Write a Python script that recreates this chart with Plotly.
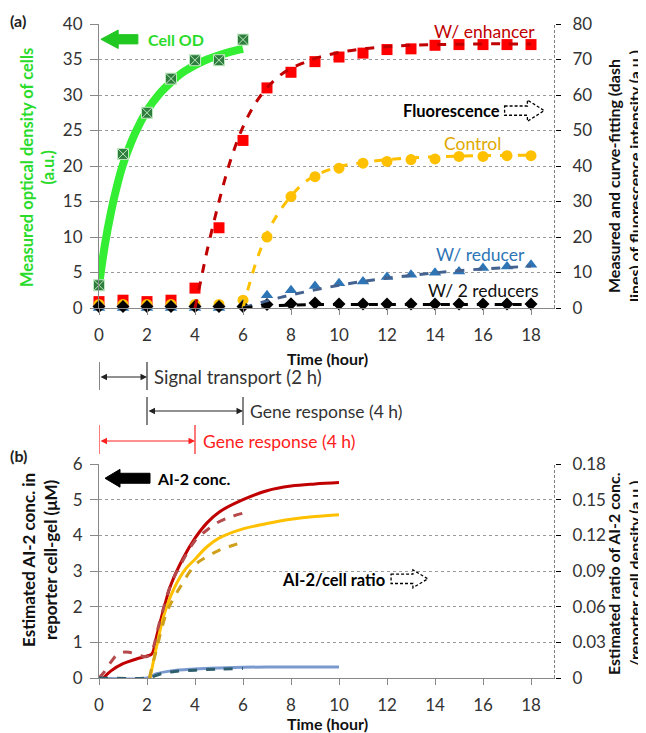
import plotly.graph_objects as go

# ---------------- Panel (a) data ----------------
t_meas = list(range(0, 19))
t_od = [0, 1, 2, 3, 4, 5, 6]
od_meas = [3.2, 21.7, 27.5, 32.3, 34.9, 34.9, 37.8]
t_od_fit = [0, 0.25, 0.5, 0.75, 1, 1.5, 2, 2.5, 3, 3.5, 4, 4.5, 5, 5.5, 6]
od_fit = [3.2, 9.0, 13.5, 17.2, 20.2, 24.6, 27.8, 30.1, 31.8, 33.2, 34.2, 35.0, 35.6, 36.1, 36.5]

fl_enh = [1.8, 2.2, 1.8, 2.2, 5.6, 22.6, 47.2, 62.0, 66.4, 69.4, 70.7, 71.8, 72.8, 73.0, 74.0, 74.2, 74.2, 74.2, 74.2]
fl_ctrl = [1.0, 1.0, 1.0, 1.0, 1.0, 1.0, 2.2, 20.0, 31.4, 37.0, 39.4, 40.8, 41.3, 41.8, 42.0, 42.7, 42.7, 42.9, 42.9]
fl_red = [0.0, 0.0, 0.0, 0.0, 0.0, 0.0, 1.0, 3.6, 5.0, 6.2, 7.0, 7.5, 8.7, 9.4, 9.9, 10.3, 11.3, 11.7, 12.2]
fl_2red = [0.4, 0.4, 0.4, 0.4, 0.4, 0.4, 0.4, 1.0, 1.2, 1.4, 1.1, 1.1, 1.1, 1.1, 1.1, 1.1, 1.1, 1.1, 1.1]

t_enh_fit = [4, 4.25, 4.5, 5, 5.5, 6, 6.5, 7, 7.5, 8, 8.5, 9, 10, 11, 12, 13, 14, 15, 16, 17, 18]
enh_fit = [0, 8, 16, 30, 42, 51, 57.5, 62, 65.3, 67.5, 69.0, 70.3, 72.0, 73.0, 73.6, 74.0, 74.2, 74.3, 74.4, 74.4, 74.4]
t_ctrl_fit = [6, 6.5, 7, 7.5, 8, 8.5, 9, 10, 11, 12, 13, 14, 15, 16, 17, 18]
ctrl_fit = [0, 12, 21, 27, 31.5, 35, 37.3, 39.8, 41.0, 41.8, 42.3, 42.6, 42.8, 42.9, 43.0, 43.0]
t_red_fit = [6, 7, 8, 9, 10, 11, 12, 13, 14, 15, 16, 17, 18]
red_fit = [0, 2.0, 3.7, 5.1, 6.4, 7.5, 8.4, 9.2, 9.9, 10.5, 11.0, 11.4, 11.8]
t_2red_fit = [6, 7, 8, 10, 12, 14, 16, 18]
red2_fit = [0, 0.6, 0.8, 1.0, 1.0, 1.0, 1.0, 1.0]

# ---------------- Panel (b) data ----------------
t_red_s = [0.18, 0.5, 1.0, 1.5, 2.0, 2.2, 2.4, 2.7, 3.0, 3.5, 4.0, 4.5, 5.0, 6.0, 7.0, 8.0, 9.0, 10.0]
ai2_red_s = [0, 0.2, 0.4, 0.52, 0.62, 0.67, 1.17, 1.95, 2.62, 3.35, 3.92, 4.35, 4.65, 5.0, 5.25, 5.38, 5.44, 5.48]
t_yel_s = [2.13, 2.4, 2.7, 3.1, 3.6, 4.0, 4.5, 5.0, 6.0, 7.0, 8.0, 9.0, 10.0]
ai2_yel_s = [0, 0.89, 1.75, 2.47, 3.05, 3.33, 3.68, 3.92, 4.18, 4.33, 4.45, 4.53, 4.58]
t_blu_s = [0, 2.0, 2.4, 3.0, 4.0, 5.0, 6.0, 7.0, 8.0, 9.0, 10.0]
ai2_blu_s = [0, 0, 0.12, 0.2, 0.25, 0.28, 0.3, 0.31, 0.31, 0.31, 0.31]

t_red_d = [0, 0.25, 0.5, 0.75, 1.0, 1.25, 1.5, 2.0, 2.2, 2.5, 3.0, 3.5, 4.0, 4.5, 5.0, 5.5, 6.0]
ratio_red_d = [0, 0.006, 0.0135, 0.0195, 0.0216, 0.0216, 0.0204, 0.018, 0.0225, 0.045, 0.079, 0.099, 0.1155, 0.1245, 0.1314, 0.1356, 0.1386]
t_yel_d = [2.1, 2.2, 2.4, 2.6, 2.8, 3.0, 3.4, 4.0, 4.5, 5.0, 5.5, 6.0]
ratio_yel_d = [0, 0.009, 0.024, 0.0405, 0.054, 0.063, 0.0771, 0.0951, 0.102, 0.1074, 0.111, 0.1146]
t_blu_d = [0, 2.0, 2.2, 2.5, 3.0, 4.0, 5.0, 6.0]
ratio_blu_d = [0, 0, 0.0009, 0.003, 0.0051, 0.0066, 0.0075, 0.0081]

x_ticks = [0, 2, 4, 6, 8, 10, 12, 14, 16, 18]

FONT = "Lato"
GREEN = "#2BDB2B"
OFF = 8  # page body margin offset
W, H = 646 - OFF, 733 - OFF
L = 99 - OFF
PW = 456


def py(p):
    return 1 - (p - OFF) / H


def px(p):
    return (p - 99) / PW


fig = go.Figure()

# ---- panel (a) traces ----
fig.add_trace(go.Scatter(x=t_od_fit, y=od_fit, mode="lines", line=dict(color="#33EE33", width=8, shape="spline"),
                         xaxis="x", yaxis="y", showlegend=False))
fig.add_trace(go.Scatter(x=t_od, y=od_meas, mode="markers",
                         marker=dict(symbol="square-x", size=11, color="#2E7D3E", line=dict(color="#BEE8BE", width=1)),
                         xaxis="x", yaxis="y", showlegend=False, cliponaxis=False))
fig.add_trace(go.Scatter(x=t_meas, y=fl_enh, mode="markers", marker=dict(symbol="square", size=11, color="#FF0000"),
                         xaxis="x", yaxis="y2", showlegend=False, cliponaxis=False))
fig.add_trace(go.Scatter(x=t_meas, y=fl_ctrl, mode="markers", marker=dict(symbol="circle", size=11, color="#FFC000"),
                         xaxis="x", yaxis="y2", showlegend=False, cliponaxis=False))
fig.add_trace(go.Scatter(x=t_meas, y=fl_red, mode="markers", marker=dict(symbol="triangle-up", size=11, color="#2E75B6"),
                         xaxis="x", yaxis="y2", showlegend=False, cliponaxis=False))
fig.add_trace(go.Scatter(x=t_meas, y=fl_2red, mode="markers", marker=dict(symbol="diamond", size=10, color="#000000"),
                         xaxis="x", yaxis="y2", showlegend=False, cliponaxis=False))
for tx, ty, col in [(t_enh_fit, enh_fit, "#C00000"), (t_ctrl_fit, ctrl_fit, "#FFC000"),
                    (t_red_fit, red_fit, "#44628F"), (t_2red_fit, red2_fit, "#000000")]:
    fig.add_trace(go.Scatter(x=tx, y=ty, mode="lines", line=dict(color=col, width=3, dash="dash", shape="spline"),
                             xaxis="x", yaxis="y2", showlegend=False))

# ---- panel (b) traces ----
for tx, ty, col in [(t_blu_s, ai2_blu_s, "#7A9ACF"), (t_red_s, ai2_red_s, "#C00000"), (t_yel_s, ai2_yel_s, "#FFC000")]:
    fig.add_trace(go.Scatter(x=tx, y=ty, mode="lines", line=dict(color=col, width=3, shape="spline"),
                             xaxis="x2", yaxis="y3", showlegend=False))
for tx, ty, col in [(t_red_d, ratio_red_d, "#B5494B"), (t_yel_d, ratio_yel_d, "#CFA01A"), (t_blu_d, ratio_blu_d, "#2D5E6E")]:
    fig.add_trace(go.Scatter(x=tx, y=ty, mode="lines", line=dict(color=col, width=3, dash="dash", shape="spline"),
                             xaxis="x2", yaxis="y4", showlegend=False))

tickfont = dict(family=FONT, size=17, color="#333333")
xcommon = dict(range=[0, 19], tickvals=x_ticks, ticks="outside", ticklen=6, tickcolor="#888888",
               showline=True, linecolor="#888888", linewidth=1, showgrid=False, zeroline=False,
               tickfont=tickfont, automargin=False, ticklabelstandoff=6)
ycommon = dict(ticks="outside", ticklen=8, tickcolor="#888888", showline=True, linecolor="#888888",
               showgrid=True, gridcolor="#9A9A9A", griddash="dot", gridwidth=1, zeroline=False,
               tickfont=tickfont, automargin=False, ticklabelstandoff=4)
yright = dict(side="right", ticks="outside", ticklen=5, tickcolor="#000000", showline=False, showgrid=False,
              zeroline=False, tickfont=tickfont, automargin=False, ticklabelstandoff=8)

dom_a = [py(308), py(24)]
dom_b = [py(678), py(464)]

fig.update_layout(
    width=W, height=H, margin=dict(l=L, r=W - L - PW, t=0, b=0, pad=0),
    plot_bgcolor="white", paper_bgcolor="white", font=dict(family=FONT),
    xaxis=dict(anchor="y", domain=[0, 1], **xcommon),
    xaxis2=dict(anchor="y3", domain=[0, 1], **xcommon),
    yaxis=dict(domain=dom_a, range=[0, 40], dtick=5, anchor="x", **ycommon),
    yaxis2=dict(overlaying="y", range=[0, 80], dtick=10, anchor="x", **yright),
    yaxis3=dict(domain=dom_b, range=[0, 6], dtick=1, anchor="x2", **ycommon),
    yaxis4=dict(overlaying="y3", range=[0, 0.18], dtick=0.03, anchor="x2", **yright),
)

shapes = []
# dashed right axis lines
shapes.append(dict(type="line", xref="x", yref="y domain", x0=19, x1=19, y0=0, y1=1,
                   line=dict(color="#000000", width=1, dash="3px,2px")))
shapes.append(dict(type="line", xref="x2", yref="y3 domain", x0=19, x1=19, y0=0, y1=1,
                   line=dict(color="#000000", width=1, dash="3px,2px")))
# block arrows
shapes.append(dict(type="path", xref="x", yref="y",
                   path="M 0.08,37.85 L 0.8,39.15 L 0.8,38.5 L 1.62,38.5 L 1.62,37.2 L 0.8,37.2 L 0.8,36.55 Z",
                   fillcolor="#22C822", line=dict(color="#22C822", width=1)))
shapes.append(dict(type="path", xref="x2", yref="y3",
                   path="M 0.25,5.6 L 0.875,5.85 L 0.875,5.74 L 2.125,5.74 L 2.125,5.46 L 0.875,5.46 L 0.875,5.35 Z",
                   fillcolor="#000000", line=dict(color="#000000", width=1)))
shapes.append(dict(type="path", xref="x", yref="y",
                   path="M 16.9,28.45 L 17.85,28.45 L 17.85,29.3 L 18.55,27.8 L 17.85,26.3 L 17.85,27.15 L 16.9,27.15 Z",
                   fillcolor="white", line=dict(color="#000000", width=1.3, dash="3px,2px")))
shapes.append(dict(type="path", xref="x2", yref="y3",
                   path="M 12.17,2.91 L 13.08,2.91 L 13.08,3.03 L 13.7,2.78 L 13.08,2.53 L 13.08,2.65 L 12.17,2.65 Z",
                   fillcolor="white", line=dict(color="#000000", width=1.3, dash="3px,2px")))

# interval bars below panel (a)
for xv, y0, y1, col in [(0, 362, 390, "#333333"), (2, 362, 390, "#333333"),
                        (2, 397, 425, "#333333"), (6, 397, 425, "#333333"),
                        (0, 425, 454, "#FF2020"), (4, 425, 454, "#FF2020")]:
    shapes.append(dict(type="line", xref="x", yref="paper", x0=xv, x1=xv, y0=py(y0), y1=py(y1),
                       line=dict(color=col, width=1.2)))
fig.update_layout(shapes=shapes)

ann = []
for x0, x1, yp, col in [(0, 2, 377, "#222222"), (2, 6, 411, "#222222"), (0, 4, 441, "#FF2020")]:
    ann.append(dict(xref="x", yref="paper", x=x1, y=py(yp), axref="x", ayref="pixel", ax=x0, ay=0,
                    text="", showarrow=True, arrowhead=2, arrowside="end+start", arrowsize=1.3,
                    arrowwidth=1, arrowcolor=col))
txt = dict(family=FONT, size=17.5)
C = dict(showarrow=False, xanchor="center", yanchor="middle")
ann += [
    dict(xref="x", yref="paper", x=2.2, y=py(377), text="Signal transport (2 h)", showarrow=False,
         xanchor="left", yanchor="middle", font=dict(txt, size=18.5, color="#333333")),
    dict(xref="x", yref="paper", x=6.2, y=py(411), text="Gene response (4 h)", showarrow=False,
         xanchor="left", yanchor="middle", font=dict(txt, color="#333333")),
    dict(xref="x", yref="paper", x=4.25, y=py(441), text="Gene response (4 h)", showarrow=False,
         xanchor="left", yanchor="middle", font=dict(txt, color="#FF2020")),
    dict(xref="x", yref="y", x=3.2, y=37.8, text="<b>Cell OD</b>", font=dict(txt, size=16, color=GREEN), **C),
    dict(xref="x", yref="y", x=18.25, y=38.9, text="W/ enhancer", showarrow=False, xanchor="right",
         yanchor="middle", font=dict(txt, color="#C00000")),
    dict(xref="x", yref="y", x=16.8, y=27.75, text="<b>Fluorescence</b>", showarrow=False, xanchor="right",
         yanchor="middle", font=dict(txt, size=16.5, color="#000000")),
    dict(xref="x", yref="y", x=15.56, y=23.2, text="Control", font=dict(txt, color="#E0A800"), **C),
    dict(xref="x", yref="y", x=15.9, y=7.6, text="W/ reducer", font=dict(txt, color="#2E75B6"), **C),
    dict(xref="x", yref="y", x=16.0, y=2.5, text="W/ 2 reducers", font=dict(txt, color="#111111"), **C),
    dict(xref="x2", yref="y3", x=3.92, y=5.58, text="<b>AI-2 conc.</b>", font=dict(txt, size=16, color="#000000"), **C),
    dict(xref="x2", yref="y3", x=12.0, y=2.74, text="<b>AI-2/cell ratio</b>", showarrow=False, xanchor="right",
         yanchor="middle", font=dict(txt, size=16.5, color="#000000")),
    # panel labels
    dict(xref="paper", yref="paper", x=px(18), y=py(21), text="<b>(a)</b>", font=dict(txt, size=16, color="#222222"), **C),
    dict(xref="paper", yref="paper", x=px(18), y=py(455), text="<b>(b)</b>", font=dict(txt, size=16, color="#222222"), **C),
    # axis titles
    dict(xref="paper", yref="paper", x=px(327), y=py(358), text="<b>Time (hour)</b>",
         font=dict(txt, size=16, color="#111111"), **C),
    dict(xref="paper", yref="paper", x=px(327), y=py(723), text="<b>Time (hour)</b>",
         font=dict(txt, size=16, color="#111111"), **C),
    dict(xref="paper", yref="paper", x=px(37), y=py(168), textangle=-90,
         text="<b>Measured optical density of cells<br>(a.u.)</b>", font=dict(txt, size=16.5, color=GREEN), **C),
    dict(xref="paper", yref="paper", x=px(624), y=py(176), textangle=-90,
         text="<b>Measured and curve-fitting (dash<br>lines) of fluorescence intensity (a.u.)</b>",
         font=dict(txt, size=16, color="#111111"), **C),
    dict(xref="paper", yref="paper", x=px(39), y=py(560), textangle=-90,
         text="<b>Estimated AI-2 conc. in<br>reporter cell-gel (μM)</b>", font=dict(txt, size=17, color="#111111"), **C),
    dict(xref="paper", yref="paper", x=px(624), y=py(574), textangle=-90,
         text="<b>Estimated ratio of AI-2 conc.<br>/reporter cell density (a.u.)</b>",
         font=dict(txt, size=16, color="#111111"), **C),
]
fig.update_layout(annotations=ann)

fig.write_html("out.html")
